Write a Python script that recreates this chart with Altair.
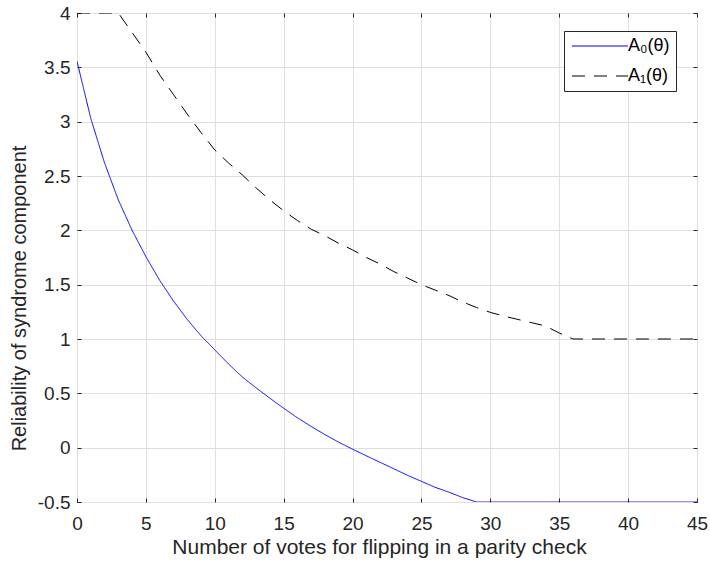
import altair as alt
import pandas as pd

# ---- data ----
votes = [0, 1, 2, 3, 4, 5, 6, 7, 8, 9, 10, 11, 12, 13, 14, 15, 16, 17, 18, 19, 20, 21, 22,
         23, 24, 25, 26, 27, 28, 29, 30, 31, 32, 33, 34, 35, 36, 37, 38, 39, 40, 41, 42, 43, 44, 45]
a0_values = [3.556, 3.03, 2.62, 2.28, 2.0, 1.758, 1.54, 1.35, 1.18, 1.03, 0.90, 0.77, 0.65,
             0.55, 0.455, 0.363, 0.275, 0.195, 0.12, 0.05, -0.014, -0.075, -0.135, -0.195,
             -0.255, -0.31, -0.365, -0.41, -0.46, -0.5, -0.5, -0.5, -0.5, -0.5, -0.5, -0.5,
             -0.5, -0.5, -0.5, -0.5, -0.5, -0.5, -0.5, -0.5, -0.5, -0.5]
a1_values = [4.0, 4.0, 4.0, 4.0, 3.82, 3.64, 3.43, 3.25, 3.07, 2.9, 2.74, 2.62, 2.51, 2.39,
             2.28, 2.18, 2.09, 2.01, 1.95, 1.88, 1.82, 1.75, 1.69, 1.62, 1.56, 1.5, 1.45, 1.40,
             1.34, 1.29, 1.245, 1.21, 1.18, 1.15, 1.12, 1.055, 1.0, 1.0, 1.0, 1.0, 1.0, 1.0,
             1.0, 1.0, 1.0, 1.0]
series_names = ["A\u2080(\u03b8)", "A\u2081(\u03b8)"]
x_ticks = [0, 5, 10, 15, 20, 25, 30, 35, 40, 45]
y_ticks = [-0.5, 0, 0.5, 1, 1.5, 2, 2.5, 3, 3.5, 4]
x_title = "Number of votes for flipping in a parity check"
y_title = "Reliability of syndrome component"

rows = []
for name, vals in zip(series_names, [a0_values, a1_values]):
    for xv, yv in zip(votes, vals):
        rows.append({"x": xv, "y": yv, "series": name})
df = pd.DataFrame(rows)

FONT = "Liberation Sans"
AX = "#262626"
GRID = "#dfdfdf"

xscale = alt.Scale(domain=[0, 45], nice=False, zero=False)
yscale = alt.Scale(domain=[-0.5, 4], nice=False, zero=False)

legend_cfg = dict(title=None, orient="none", legendX=487, legendY=18,
                  symbolType="M-1,0H7", symbolSize=196,
                  symbolStrokeWidth=1, labelOffset=40, padding=6,
                  rowPadding=12, strokeColor=AX, fillColor="white",
                  labelFont=FONT, labelFontSize=18, labelColor="#000000")

lines = alt.Chart(df).mark_line(clip=True, strokeWidth=1).encode(
    x=alt.X("x:Q", scale=xscale,
            axis=alt.Axis(values=x_ticks, grid=True, gridColor=GRID, domain=False,
                          tickSize=4, offset=-4, tickColor=AX, labelPadding=12,
                          labelFlush=False,
                          labelFont=FONT, labelFontSize=19, labelColor=AX,
                          title=x_title, titleFont=FONT, titleFontSize=21,
                          titleFontWeight="normal", titleColor=AX, titlePadding=3,
                          titleX=302)),
    y=alt.Y("y:Q", scale=yscale,
            axis=alt.Axis(values=y_ticks, grid=True, gridColor=GRID, domain=False,
                          tickSize=4, offset=-4, tickColor=AX, labelPadding=7,
                          labelFlush=False,
                          labelExpr="datum.value + ''",
                          labelFont=FONT, labelFontSize=19, labelColor=AX,
                          title=y_title, titleFont=FONT, titleFontSize=20,
                          titleFontWeight="normal", titleColor=AX, titlePadding=8,
                          titleY=285)),
    color=alt.Color("series:N",
                    scale=alt.Scale(domain=series_names, range=["#0000ff", "#000000"]),
                    legend=alt.Legend(**legend_cfg)),
    strokeDash=alt.StrokeDash("series:N",
                              scale=alt.Scale(domain=series_names, range=[[1, 0], [13, 9]]),
                              legend=alt.Legend(**legend_cfg)),
)

frame = alt.Chart(df).mark_line(opacity=0).encode(
    x=alt.X("x:Q", scale=xscale,
            axis=alt.Axis(orient="top", values=x_ticks, grid=False, domain=False,
                          labels=False, tickSize=4, offset=-4, tickColor=AX, title=None)),
    y=alt.Y("y:Q", scale=yscale,
            axis=alt.Axis(orient="right", values=y_ticks, grid=False, domain=False,
                          labels=False, tickSize=4, offset=-4, tickColor=AX, title=None)),
    detail="series:N",
)

chart = alt.layer(lines, frame).resolve_axis(x="independent", y="independent").properties(
    width=620, height=489,
    autosize=alt.AutoSizeParams(type="none"),
    padding={"left": 77, "top": 13, "right": 13, "bottom": 65},
    background="white",
).configure_view(stroke=AX, strokeWidth=1)

chart.save("out.html", embed_options={"renderer": "svg", "actions": False})
